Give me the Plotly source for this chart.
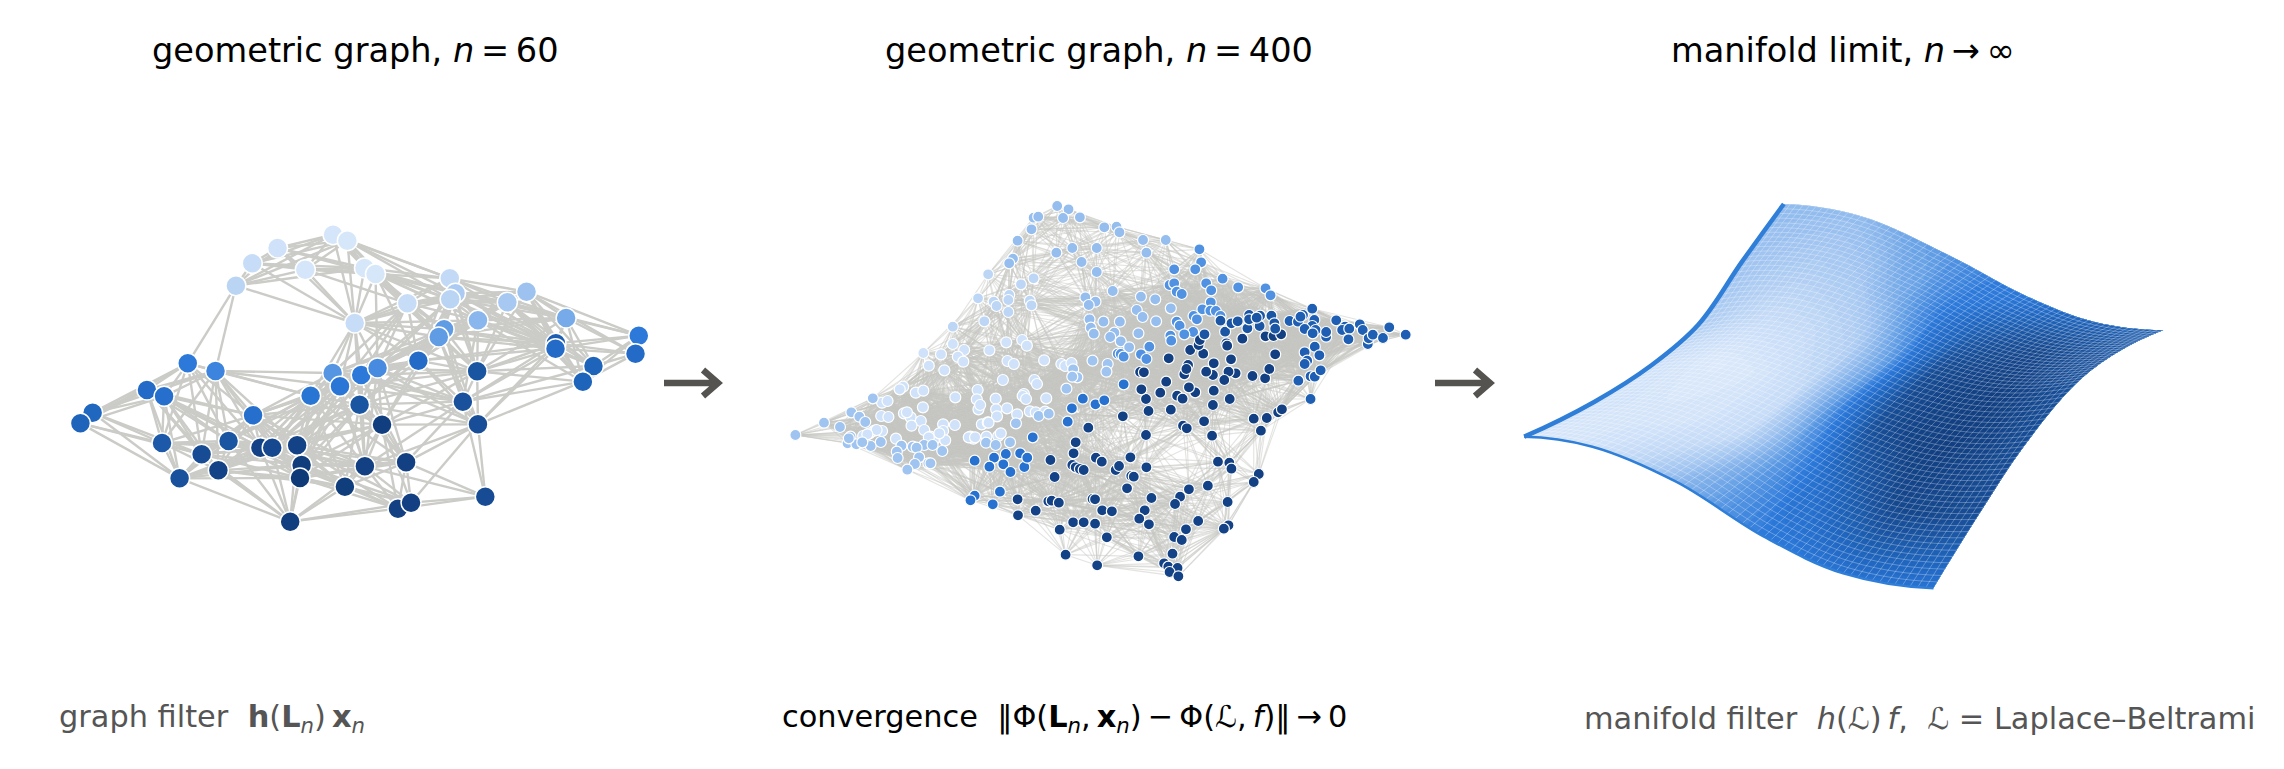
import plotly.graph_objects as go

W, H = 2284, 769

blues = [[0, "#dbe9fb"], [0.12, "#c3daf6"], [0.25, "#9dc2ef"], [0.38, "#6aa3e6"], [0.5, "#2c79da"],
         [0.62, "#2168c2"], [0.75, "#1a55a2"], [0.88, "#144489"], [1, "#0e3a78"]]

# n = 60 graph
g1_x = [718, 753, 582, 520, 650, 795, 822, 480, 1004, 1018, 1005, 900, 1192, 1145, 771, 1073, 1289, 990, 977, 1467,
        1264, 1263, 1459, 1356, 1330, 927, 1071, 362, 430, 717, 787, 827, 735, 663, 262, 304, 783, 1036, 129, 99,
        522, 838, 1073, 299, 462, 396, 540, 569, 630, 641, 637, 437, 342, 796, 897, 747, 877, 909, 1091, 613]
g1_y = [104, 122, 144, 190, 209, 204, 222, 257, 235, 280, 298, 310, 275, 307, 369, 361, 354, 388, 411, 407,
        430, 446, 461, 498, 545, 482, 514, 490, 513, 519, 525, 504, 559, 587, 570, 589, 614, 605, 638, 670,
        646, 674, 673, 729, 723, 763, 743, 743, 736, 795, 834, 811, 835, 799, 787, 860, 926, 908, 890, 965]
g1_shade = [.03, .02, .06, .1, .03, .02, .02, .15, .12, .2, .15, .1, .25, .22, .1, .3, .35, .4, .4, .5,
            .68, .6, .6, .65, .65, .6, .75, .5, .47, .42, .5, .45, .52, .53, .6, .57, .75, .78, .63, .65,
            .57, .95, .8, .72, .75, .82, .9, .85, .9, .97, 1, .9, .78, .93, .93, .97, .93, .93, .82, .95]

# n = 400 graph, groups of nodes with about the same colour
top_nodes = [(706,78),(733,88),(650,113),(661,110),(720,114),(760,112),(645,148),(818,142),(847,140),(854,157),
             (910,180),(964,180),(612,182),(742,204),(800,204),(704,218),(918,218),(601,236),(592,250),(764,246),
             (800,276),(773,352),(797,365),(781,375),(838,333),(905,350),(939,358),(895,390),(909,411),(976,385),
             (783,418),(816,425),(855,425),(786,443),(793,461),(941,424),(899,460),(842,458),(832,471),(857,484),
             (877,502)]
upper_left_nodes = [(542,283),(650,295),(620,313),(518,355),(592,345),(590,360),(555,365),(562,378),(641,362),
                    (645,376),(590,396),(533,424),(458,440)]
mid_nodes = [(1044,208),(1048,247),(1034,268),(984,268),(1099,296),(1136,322),(1201,325),(1213,346),(973,315),
             (984,310),(990,335),(1002,342),(1060,310),(1072,331),(1071,367),(1051,388),(1070,392),(1083,393),
             (1094,408),(1030,408),(1038,418),(990,425),(997,437),(1029,456),(1008,463),(975,467),(977,482),
             (925,500),(905,523),(918,537),(850,521),(857,522),(864,530)]
left_nodes = [(458,492),(485,510),(430,523),(388,519),(470,530),(483,545),(401,557),(438,571),(545,511),(585,487),
              (623,480),(634,497),(588,543),(603,552),(675,541),(716,552),(725,558),(740,549),(577,600),(652,600),
              (658,612),(340,620),(332,628),(370,638),(388,632),(517,630),(627,642),(624,648),(632,657),(464,652),
              (515,658),(560,656),(680,655),(290,668),(303,663),(519,688),(387,682),(561,688),(587,685),(641,694),
              (655,697),(563,709),(611,703),(342,700),(288,708),(305,711),(358,712),(382,723),(360,737),(435,733),
              (463,735),(527,733),(541,727),(390,750),(290,753),(272,752),(260,760),(245,768),(435,753),(500,770),
              (507,776),(538,770),(566,768),(572,760),(424,770),(405,770),(413,780),(323,776),(440,781),
              (523,675),(677,695),(349,697),(426,760),(401,772),(496,772),(511,772),(543,728),(277,750),(255,763)]
left_rim_nodes = [(790,542),(826,552),(744,568),(754,592),(742,590),(823,575),(728,626),(268,655),(662,708),(686,701),
                  (608,730),(217,697),(236,710),(250,726),(190,741),(152,728),(215,770),(208,790),(229,793),(263,798),
                  (287,786),(336,797),(390,795),(410,795),(363,800),(372,803),(433,813),(537,788),(560,795),(594,787),
                  (84,765),(325,815),(327,834),(378,832),(368,852),(350,869),(400,850),(405,850),(243,787),(211,775)]
low_mid_nodes = [(648,772),(767,656),(741,685),(731,725),(510,842),(556,833),(584,822),(545,860),(578,853),(595,876),
                 (628,861),(618,820),(635,833),(510,947),(500,961),(570,935),(553,973),(797,673),(818,661),(864,613)]
bottom_nodes = [(780,743),(750,787),(745,820),(690,840),(700,891),(798,833),(812,845),(742,855),(750,862),(760,867),
                (769,870),(845,870),(853,858),(880,832),(882,888),(888,890),(918,862),(872,925),(612,958),(685,964),
                (693,962),(710,968),(790,957),(796,958),(930,954),(1019,928),(998,950),(986,972),(1064,917),(1111,966),
                (613,1006),(655,992),(813,991),(836,994),(914,991),(901,1016),(924,1033),(744,1027),(769,1027),(796,1031),
                (1041,1023),(1012,1048),(1113,1036),(1102,1046),(712,1049),(824,1072),(984,1071),(1002,1080),(726,1124),
                (801,1156),(899,1129),(980,1121),(960,1150),(970,1160),(992,1164),(973,1176),(994,1189)]
center_nodes = [(917,765),(862,709),(923,693),(976,689),(917,657),(906,628),(951,638),(991,647),(1004,656),(1034,637),
                (1019,622),(1078,632),(1116,657),(1076,675),(1055,724),(1005,737),(1014,745),(1074,767),(1088,845),(1115,848),
                (1120,866),(1185,882),(1173,906),(1190,752),(1173,716),(1204,714),(1231,697),(1240,688),(1200,595),(1170,588),
                (1210,567),(1130,580),(1113,575),(1103,600),(1076,585),(1060,575),(1078,550),(1119,538),(1017,555),(1008,583),
                (1013,567),(965,605),(903,576),(912,577),(971,535),(1022,510),(1053,521),(1042,495),(1045,480),
                (1108,490),(1110,497),(1146,476),(1201,469),(1220,468),(1238,463),(1224,523)]
upper_center_nodes = [(1056,463),(1105,455),(1120,430),(1135,424),(1094,422),(1158,445),(1187,438),(1162,405),(1162,418),
                      (1188,407),(1215,407),(1222,430),(1224,446),(1180,413)]
right_nodes = [(1308,657),(1279,602),(1308,589),(1318,590),(1332,571),(1258,423),(1278,425),(1290,405),(1284,410),(1312,386),
               (1317,420),(1312,438),(1294,447),(1320,450),(1313,460),(1345,470),(1345,456),(1369,421),(1390,440),(1383,450),
               (1400,446),(1425,433),(1432,450),(1398,478),(1444,492),(1446,475),(1456,464),(1480,474),(1495,442),(1534,464),
               (1318,500),(1294,517),(1329,526),(1300,542),(1294,552)]
g2_groups = [(top_nodes, .27), (upper_left_nodes, .14), (mid_nodes, .43), (left_nodes, .06), (left_rim_nodes, .24),
             (low_mid_nodes, .55), (bottom_nodes, .9), (center_nodes, .93), (upper_center_nodes, .74), (right_nodes, .68)]

# manifold sheet, rows run from the lower edge to the upper edge
surf_a = [0, 1, 2, 3, 4, 5]
surf_b = [0, 1, 2, 3, 4, 5]
surf_x = [[55, 210, 400, 600, 780, 985],
          [215, 366, 549, 737, 903, 1090],
          [345, 496, 679, 859, 1016, 1190],
          [450, 611, 801, 983, 1139, 1310],
          [550, 716, 909, 1087, 1238, 1400],
          [645, 820, 1020, 1200, 1350, 1508]]
surf_y = [[770, 800, 905, 1070, 1180, 1225],
          [665, 676, 762, 898, 980, 1000],
          [555, 551, 626, 739, 799, 800],
          [435, 422, 488, 581, 624, 610],
          [245, 255, 347, 456, 515, 520],
          [72, 108, 225, 350, 425, 450]]
shade_a = [0, .5, 1, 1.5, 2, 2.5, 3, 3.5, 4, 4.5, 5]
surf_z = [[.05, .03, .06, .15, .3, .42, .5, .52, .55, .55, .55],
          [.06, .05, .03, .04, .12, .4, .58, .72, .85, .85, .8],
          [.1, .04, 0, .03, .12, .45, .8, .9, .95, .88, .8],
          [.2, .14, .1, .12, .18, .42, .82, .9, .93, .85, .78],
          [.25, .22, .2, .22, .35, .5, .68, .8, .85, .8, .75],
          [.28, .28, .28, .36, .42, .48, .52, .6, .65, .68, .7]]

titles = ["geometric graph, <i>n</i>\u2009=\u200960", "geometric graph, <i>n</i>\u2009=\u2009400",
          "manifold limit, <i>n</i>\u2009\u2192\u2009\u221e"]
title_px = [355, 1099, 1843]
captions = ["graph filter\u00a0\u00a0<b>h</b>(<b>L</b><sub><i>n</i></sub>)\u2009<b>x</b><sub><i>n</i></sub>",
            "convergence\u00a0\u00a0\u2016\u03a6(<b>L</b><sub><i>n</i></sub>,\u2009<b>x</b><sub><i>n</i></sub>)\u2009\u2212\u2009\u03a6(\u2112,\u2009<i>f</i>)\u2016\u2009\u2192\u20090",
            "manifold filter\u00a0\u00a0<i>h</i>(\u2112)\u2009<i>f</i>,\u00a0\u00a0\u2112\u00a0=\u00a0Laplace\u2013Beltrami"]
caption_px = [57, 780, 1582]
caption_col = ["#555555", "#000000", "#555555"]
arrow_px = [(664, 723), (1435, 1495)]


def edge_lines(xs, ys, sx, sy, limit):
    # geometric graph: join nodes closer than limit, measured in page pixels
    ex, ey = [], []
    for i in range(len(xs)):
        for j in range(i + 1, len(xs)):
            dx = (xs[i] - xs[j]) / sx
            dy = (ys[i] - ys[j]) / sy * 1.4
            if dx * dx + dy * dy < limit * limit:
                ex += [xs[i], xs[j], None]
                ey += [ys[i], ys[j], None]
    return ex, ey


fig = go.Figure()

e1x, e1y = edge_lines(g1_x, g1_y, 2.45, 3, 140)
fig.add_trace(go.Scatter(x=e1x, y=e1y, mode="lines", line=dict(color="#cbcbc7", width=2.4), xaxis="x", yaxis="y",
                         hoverinfo="skip"))
fig.add_trace(go.Scatter(x=g1_x, y=g1_y, mode="markers", xaxis="x", yaxis="y",
                         marker=dict(size=20, color=g1_shade, colorscale=blues, cmin=0, cmax=1,
                                     line=dict(color="white", width=1.5))))

g2_x, g2_y, g2_shade = [], [], []
for group, shade in g2_groups:
    for px, py in group:
        g2_x.append(px)
        g2_y.append(py)
        g2_shade.append(shade)
e2x, e2y = edge_lines(g2_x, g2_y, 2.376, 3, 95)
fig.add_trace(go.Scatter(x=e2x, y=e2y, mode="lines", line=dict(color="rgba(200,200,196,0.5)", width=1.1), xaxis="x2",
                         yaxis="y2", hoverinfo="skip"))
fig.add_trace(go.Scatter(x=g2_x, y=g2_y, mode="markers", xaxis="x2", yaxis="y2",
                         marker=dict(size=11, color=g2_shade, colorscale=blues, cmin=0, cmax=1,
                                     line=dict(color="white", width=1.2))))

sheet_axis = dict(smoothing=1, cheatertype="value", tickmode="linear", tick0=0, dtick=1, minorgridcount=11,
                  showticklabels="none", gridcolor="rgba(255,255,255,0.28)", gridwidth=1,
                  minorgridcolor="rgba(255,255,255,0.28)", minorgridwidth=1, endline=False,
                  startline=True, startlinecolor="#2f7ed8")
fig.add_trace(go.Carpet(a=surf_a, b=surf_b, x=surf_x, y=surf_y, carpet="sheet", xaxis="x3", yaxis="y3",
                        aaxis=dict(sheet_axis, startlinewidth=4.5), baxis=dict(sheet_axis, startlinewidth=2.5)))
fig.add_trace(go.Contourcarpet(a=shade_a, b=surf_b, z=surf_z, carpet="sheet", xaxis="x3", yaxis="y3",
                               colorscale=blues, zmin=0, zmax=1, autocontour=False, showscale=False,
                               contours=dict(start=-0.013, end=1.007, size=0.02, coloring="fill", showlines=False),
                               line=dict(width=0, color="rgba(0,0,0,0)")))

annotations = []
for text, px in zip(titles, title_px):
    annotations.append(dict(text=text, x=px / W, y=1 - 51 / H, xref="paper", yref="paper", showarrow=False,
                            xanchor="center", yanchor="middle", font=dict(size=33.6, color="black")))
for text, px, col in zip(captions, caption_px, caption_col):
    annotations.append(dict(text=text, x=px / W, y=1 - 718 / H, xref="paper", yref="paper", showarrow=False,
                            xanchor="left", yanchor="middle", font=dict(size=30.4, color=col)))

shapes = []
for x0, x1 in arrow_px:
    tip = (x1 - 5) / W
    back = (x1 - 20) / W
    path = "M %f,%f L %f,%f M %f,%f L %f,%f L %f,%f" % (x0 / W, 1 - 383 / H, tip, 1 - 383 / H,
                                                        back, 1 - 370 / H, tip, 1 - 383 / H, back, 1 - 396 / H)
    shapes.append(dict(type="path", path=path, xref="paper", yref="paper", line=dict(color="#55534f", width=6.5)))


def hidden(**kw):
    return dict(visible=False, fixedrange=True, **kw)


fig.update_layout(
    width=W, height=H, margin=dict(l=0, r=0, t=0, b=0), showlegend=False, plot_bgcolor="white", paper_bgcolor="white",
    font=dict(family="DejaVu Sans"), hovermode=False, annotations=annotations, shapes=shapes,
    xaxis=hidden(domain=[40 / W, 680 / W], range=[0, 1568], anchor="y"),
    yaxis=hidden(domain=[1 - 560 / H, 1 - 200 / H], range=[1080, 0], anchor="x"),
    xaxis2=hidden(domain=[760 / W, 1420 / W], range=[0, 1568], anchor="y2"),
    yaxis2=hidden(domain=[1 - 600 / H, 1 - 180 / H], range=[1260, 0], anchor="x2"),
    xaxis3=hidden(domain=[1500 / W, 2190 / W], range=[0, 1568], anchor="y3"),
    yaxis3=hidden(domain=[1 - 600 / H, 1 - 180 / H], range=[1260, 0], anchor="x3"),
)

fig.write_html("out.html", config=dict(displayModeBar=False), post_script="document.body.style.margin='0';")
